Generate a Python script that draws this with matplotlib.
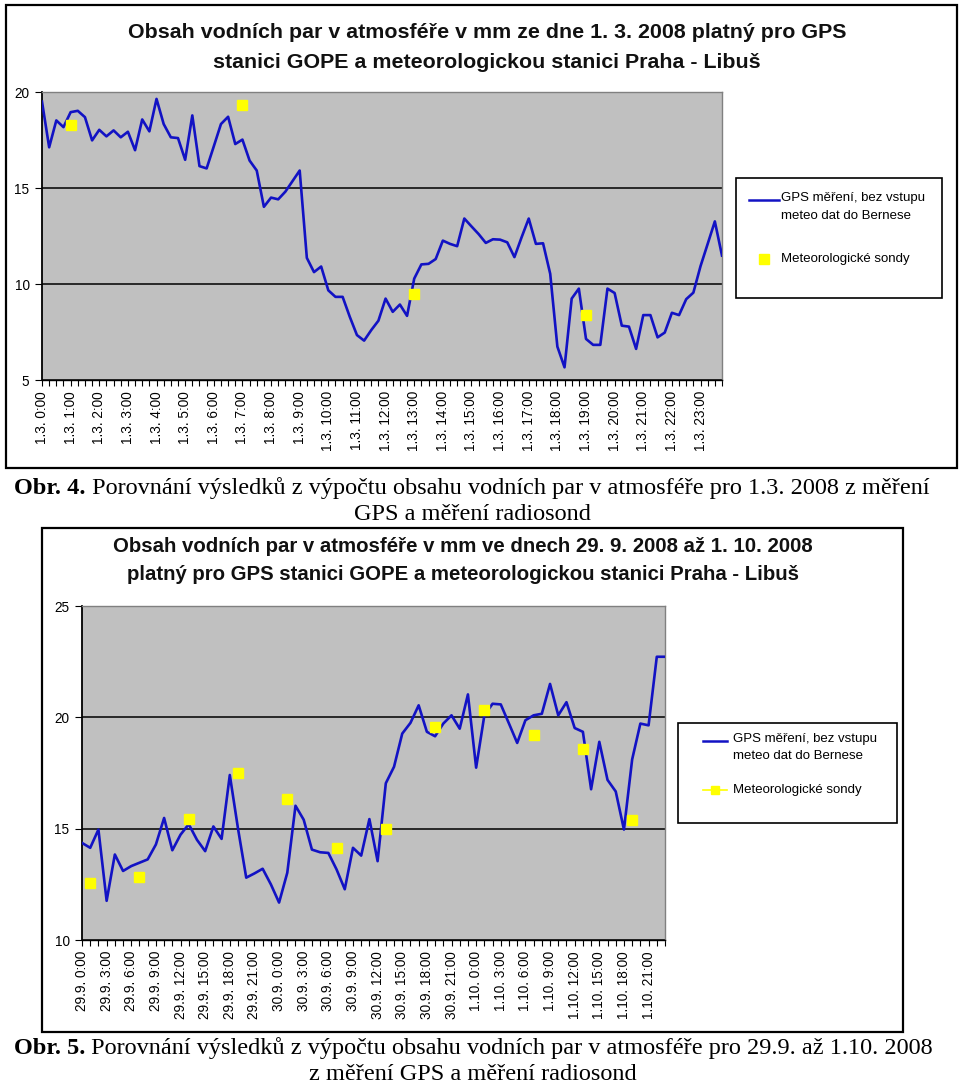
import matplotlib
matplotlib.use("Agg")
import matplotlib.pyplot as plt
from matplotlib.patches import Rectangle
from matplotlib.lines import Line2D

# ---------------- data ----------------
# Chart 1: 1. 3. 2008, 15-minute GPS values (96 points)
gps1 = [19.5, 17.12, 18.52, 18.17, 18.95, 19.02, 18.69, 17.48, 18.03, 17.69,
        18.0, 17.64, 17.93, 16.97, 18.57, 17.95, 19.64, 18.33, 17.64, 17.6,
        16.47, 18.78, 16.14, 16.02, 17.17, 18.33, 18.71, 17.29, 17.52, 16.43,
        15.91, 14.02, 14.5, 14.41, 14.81, 15.36, 15.91, 11.36, 10.62, 10.91,
        9.67, 9.33, 9.33, 8.29, 7.34, 7.05, 7.6, 8.09, 9.24, 8.55,
        8.93, 8.34, 10.28, 11.02, 11.05, 11.3, 12.26, 12.09, 11.97, 13.41,
        13.0, 12.6, 12.14, 12.33, 12.31, 12.17, 11.4, 12.43, 13.41, 12.09,
        12.12, 10.53, 6.74, 5.66, 9.24, 9.76, 7.14, 6.83, 6.83, 9.76,
        9.53, 7.83, 7.78, 6.62, 8.38, 8.38, 7.22, 7.47, 8.5, 8.38,
        9.21, 9.55, 10.93, 12.09, 13.26, 11.48]
sonde1_idx = [4, 28, 52, 76]
sonde1_val = [18.3, 19.33, 9.47, 8.41]
labels1 = ["1.3. %d:00" % h for h in range(24)]

# Chart 2: 29. 9. - 1. 10. 2008, hourly GPS values (72 points)
gps2 = [14.36, 14.14, 14.96, 11.76, 13.84, 13.1, 13.32, 13.47, 13.62, 14.29,
        15.48, 14.03, 14.73, 15.2, 14.5, 13.99, 15.1, 14.54, 17.41, 15.0,
        12.8, 12.99, 13.2, 12.5, 11.68, 13.02, 16.03, 15.4, 14.06, 13.94,
        13.91, 13.17, 12.28, 14.14, 13.79, 15.43, 13.54, 17.04, 17.78, 19.27,
        19.75, 20.54, 19.35, 19.15, 19.72, 20.09, 19.49, 21.03, 17.74, 20.09,
        20.61, 20.58, 19.72, 18.85, 19.87, 20.09, 20.16, 21.5, 20.09, 20.68,
        19.52, 19.35, 16.77, 18.9, 17.19, 16.67, 14.96, 18.11, 19.72, 19.64,
        22.72, 22.72]
sonde2_idx = [1, 7, 13, 19, 25, 31, 37, 43, 49, 55, 61, 67]
sonde2_val = [12.54, 12.83, 15.43, 17.5, 16.31, 14.14, 14.99, 19.57, 20.34,
              19.2, 18.56, 15.4]
days2 = ["29.9.", "30.9.", "1.10."]
labels2 = ["%s %d:00" % (d, h) for d in days2 for h in range(0, 24, 3)]

title1 = ["Obsah vodních par v atmosféře v mm ze dne 1. 3. 2008 platný pro GPS",
          "stanici GOPE a meteorologickou stanici Praha - Libuš"]
title2 = ["Obsah vodních par v atmosféře v mm ve dnech 29. 9. 2008 až 1. 10. 2008",
          "platný pro GPS stanici GOPE a meteorologickou stanici Praha - Libuš"]
legend_gps = "GPS měření, bez vstupu\nmeteo dat do Bernese"
legend_sonde = "Meteorologické sondy"
cap1 = ("Obr. 4.", " Porovnání výsledků z výpočtu obsahu vodních par v atmosféře pro 1.3. 2008 z měření",
        "GPS a měření radiosond")
cap2 = ("Obr. 5.", " Porovnání výsledků z výpočtu obsahu vodních par v atmosféře pro 29.9. až 1.10. 2008",
        "z měření GPS a měření radiosond")

# ---------------- layout helpers ----------------
W, H = 960, 1085
fig = plt.figure(figsize=(W / 100, H / 100), dpi=100)
plt.rcParams["font.family"] = ["Liberation Sans", "DejaVu Sans"]

over = fig.add_axes([0, 0, 1, 1], zorder=0)
over.set_xlim(0, W)
over.set_ylim(H, 0)
over.axis("off")

def px_box(x0, y0, x1, y1):
    return [x0 / W, 1 - y1 / H, (x1 - x0) / W, (y1 - y0) / H]

LINE_C = "#1212C4"
SONDE_C = "#FFFF00"

def chart(frame, plot, title, title_cx, title_ys, title_fs,
          gps, sidx, sval, ylim, yticks, step, labels, msize, legend, sonde_line):
    fx0, fy0, fx1, fy1 = frame
    over.add_patch(Rectangle((fx0, fy0), fx1 - fx0, fy1 - fy0, facecolor="white",
                             edgecolor="black", lw=1.6, zorder=1))
    for t, y in zip(title, title_ys):
        over.text(title_cx, y, t, ha="center", va="center", fontsize=title_fs,
                  fontweight="bold", color="#111111", zorder=2)
    ax = fig.add_axes(px_box(*plot), zorder=2)
    ax.set_facecolor("#C0C0C0")
    n = len(gps)
    xs = list(range(n))
    ax.plot(xs, gps, color=LINE_C, lw=1.9, zorder=3)
    ax.plot(sidx, sval, ls="none", marker="s", ms=msize, color=SONDE_C,
            mec=SONDE_C, zorder=4)
    ax.set_xlim(0, n - 1)
    ax.set_ylim(*ylim)
    ax.set_yticks(yticks)
    ax.set_yticklabels([str(v) for v in yticks])
    ax.yaxis.grid(True, color="black", lw=1.1)
    ax.set_axisbelow(True)
    ax.set_xticks(xs)
    ax.set_xticklabels([labels[i // step] if i % step == 0 else "" for i in xs],
                       rotation=90, fontsize=9.8)
    ax.tick_params(axis="x", direction="out", length=4, width=0.8, pad=4)
    ax.tick_params(axis="y", direction="out", length=5, width=0.8, pad=4, labelsize=9.8)
    for s in ("top", "right"):
        ax.spines[s].set_color("#808080")
        ax.spines[s].set_linewidth(1.0)
    ax.spines["left"].set_color("black")
    ax.spines["bottom"].set_color("black")
    ax.spines["left"].set_linewidth(1.3)
    ax.spines["bottom"].set_linewidth(1.0)

    # legend box
    lx0, ly0, lx1, ly1, l_line, l_text_x, l_y1, l_y2, l_fs, l_ls = legend
    over.add_patch(Rectangle((lx0, ly0), lx1 - lx0, ly1 - ly0, facecolor="white",
                             edgecolor="black", lw=1.2, zorder=2))
    over.add_line(Line2D([l_line[0], l_line[1]], [l_y1, l_y1], color=LINE_C,
                         lw=1.8, zorder=3))
    over.text(l_text_x, l_y1 - 8, legend_gps, ha="left", va="top", fontsize=l_fs,
              linespacing=l_ls, zorder=3)
    mx = (l_line[0] + l_line[1]) / 2
    if sonde_line:
        over.add_line(Line2D([l_line[0], l_line[1]], [l_y2, l_y2], color=SONDE_C,
                             lw=1.2, zorder=3))
    over.add_line(Line2D([mx], [l_y2], ls="none", marker="s", ms=msize - 1,
                         color=SONDE_C, mec=SONDE_C, zorder=4))
    over.text(l_text_x, l_y2, legend_sonde, ha="left", va="center",
              fontsize=l_fs, zorder=3)
    return ax

chart(frame=(6, 5, 957, 468), plot=(42, 92, 722, 380), title=title1,
      title_cx=487, title_ys=(33, 62), title_fs=15.4,
      gps=gps1, sidx=sonde1_idx, sval=sonde1_val, ylim=(5, 20),
      yticks=[5, 10, 15, 20], step=4, labels=labels1, msize=7.5,
      legend=(736, 178, 942, 298, (749, 779), 781, 200, 259, 9.5, 1.65),
      sonde_line=False)

chart(frame=(42, 528, 903, 1032), plot=(82, 606, 665, 940), title=title2,
      title_cx=463, title_ys=(547, 574), title_fs=14.7,
      gps=gps2, sidx=sonde2_idx, sval=sonde2_val, ylim=(10, 25),
      yticks=[10, 15, 20, 25], step=3, labels=labels2, msize=6.5,
      legend=(678, 723, 897, 823, (703, 727), 733, 741, 790, 9.5, 1.6),
      sonde_line=True)

# ---------------- captions ----------------
renderer = fig.canvas.get_renderer()
def caption(parts, y1, y2, cx, fs):
    bold, rest, line2 = parts
    tb = over.text(0, y1, bold, ha="left", va="center", fontsize=fs,
                   fontweight="bold", family=["Liberation Serif"])
    tr = over.text(0, y1, rest, ha="left", va="center", fontsize=fs,
                   family=["Liberation Serif"])
    wb = tb.get_window_extent(renderer).width
    wr = tr.get_window_extent(renderer).width
    x0 = cx - (wb + wr) / 2
    tb.set_x(x0)
    tr.set_x(x0 + wb)
    over.text(cx, y2, line2, ha="center", va="center", fontsize=fs,
              family=["Liberation Serif"])

caption(cap1, 488, 515, 472, 17.5)
caption(cap2, 1048, 1075, 473, 17.5)

fig.savefig("out.png", dpi=100)
